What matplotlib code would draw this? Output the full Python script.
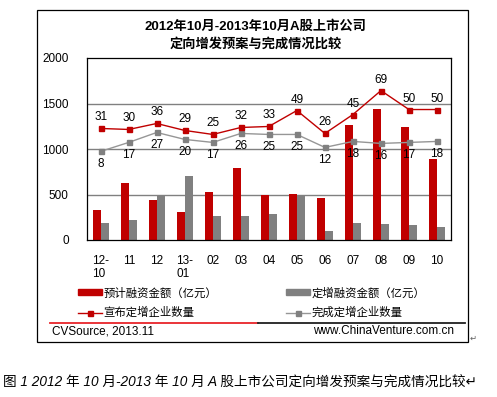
import matplotlib
matplotlib.use("Agg")
import matplotlib.pyplot as plt
from matplotlib.patches import Rectangle, Patch
from matplotlib.lines import Line2D

plt.rcParams['font.family'] = ['Liberation Sans', 'Noto Sans CJK SC', 'DejaVu Sans']

# data
months = ['12-\n10', '11', '12', '13-\n01', '02', '03', '04', '05', '06', '07', '08', '09', '10']
planned_amt = [328, 624, 438, 307, 526, 788, 500, 504, 460, 1259, 1445, 1237, 887]
done_amt = [186, 219, 493, 700, 263, 263, 288, 493, 99, 186, 175, 164, 142]
announced = [31, 30, 36, 29, 25, 32, 33, 49, 26, 45, 69, 50, 50]
completed = [8, 17, 27, 20, 17, 26, 25, 25, 12, 18, 16, 17, 18]
y_ticks = [0, 500, 1000, 1500, 2000]

RED = '#C00000'
GRAY = '#808080'
W, H = 497, 397

fig = plt.figure(figsize=(W / 100, H / 100), dpi=100)
fig.patch.set_facecolor('white')

def fx(px):
    return px / W

def fy(py):
    return (H - py) / H

# outer frame
fig.add_artist(Rectangle((fx(37), fy(342)), fx(468) - fx(37), fy(10) - fy(342),
                         transform=fig.transFigure, fill=False, ec='black', lw=0.9))

ax = fig.add_axes([fx(86.7), fy(240), fx(451) - fx(86.7), fy(58) - fy(240)])
x = list(range(len(months)))
bw = 0.286
ax.bar([i - bw / 2 for i in x], planned_amt, width=bw, color=RED, zorder=2)
ax.bar([i + bw / 2 for i in x], done_amt, width=bw, color=GRAY, zorder=2)
ax.set_xlim(-0.5, len(months) - 0.5)
ax.set_ylim(0, 2000)
ax.set_yticks(y_ticks)
ax.set_yticklabels([str(v) for v in y_ticks])
ax.set_xticks(x)
ax.set_xticklabels(months)
for lbl in ax.get_xticklabels():
    lbl.set_multialignment('left')
ax.tick_params(axis='y', length=0, pad=13, labelsize=8.5)
ax.tick_params(axis='x', length=0, pad=10.5, labelsize=8.5)
for v in y_ticks[1:-1]:
    ax.axhline(v, color=GRAY, lw=1, zorder=1)
for s in ax.spines.values():
    s.set_color('black')
    s.set_linewidth(0.9)

# secondary (hidden) axis for counts
ax2 = ax.twinx()
ax2.set_ylim(-80.9, 101.7)
ax2.axis('off')
ax2.plot(x, completed, color='#969696', lw=1, marker='s', ms=3.6, mfc=GRAY, mec=GRAY, zorder=3)
ax2.plot(x, announced, color=RED, lw=1, marker='s', ms=3.6, mfc=RED, mec=RED, zorder=4)
for i, v in enumerate(announced):
    ax2.annotate(str(v), (i, v), xytext=(0, 11), textcoords='offset pixels',
                 ha='center', va='center', fontsize=8.5)
for i, v in enumerate(completed):
    ax2.annotate(str(v), (i, v), xytext=(0, -13), textcoords='offset pixels',
                 ha='center', va='center', fontsize=8.5)

# title
fig.text(fx(255), fy(26), '2012年10月-2013年10月A股上市公司', ha='center', va='center',
         fontsize=9.5, fontweight='bold')
fig.text(fx(256), fy(44), '定向增发预案与完成情况比较', ha='center', va='center',
         fontsize=9.5, fontweight='bold')

# legend
handles = [
    Patch(color=RED),
    Line2D([0], [0], color=RED, lw=1, marker='s', ms=3.6),
    Patch(color=GRAY),
    Line2D([0], [0], color='#969696', lw=1, marker='s', ms=3.6, mfc=GRAY, mec=GRAY),
]
labels = ['预计融资金额（亿元）', '宣布定增企业数量', '定增融资金额（亿元）', '完成定增企业数量']
fig.legend(handles, labels, ncol=2, loc='upper left', bbox_to_anchor=(fx(78), fy(287)),
           frameon=False, fontsize=8.2, borderpad=0, borderaxespad=0,
           handlelength=2.1, handleheight=0.4, handletextpad=0.15,
           columnspacing=6.0, labelspacing=0.75)

# separator line
fig.add_artist(Line2D([fx(50), fx(258)], [fy(323), fy(323)], color='#E8242A', lw=1.3,
                      transform=fig.transFigure))
fig.add_artist(Line2D([fx(258), fx(465)], [fy(323), fy(323)], color='#202020', lw=1.3,
                      transform=fig.transFigure))

# footer
fig.text(fx(52), fy(331), 'CVSource, 2013.11', ha='left', va='center', fontsize=8.5)
fig.text(fx(454), fy(331), 'www.ChinaVenture.com.cn', ha='right', va='center', fontsize=8.5)
fig.text(fx(470), fy(338), '↵', ha='left', va='center', fontsize=6, color='#606060',
         family=['DejaVu Sans'])

# caption
fig.text(fx(3), fy(383), '图 1 2012 年 10 月-2013 年 10 月 A 股上市公司定向增发预案与完成情况比较↵',
         ha='left', va='center', fontsize=9.8, style='italic')

fig.savefig('out.png', dpi=100)
